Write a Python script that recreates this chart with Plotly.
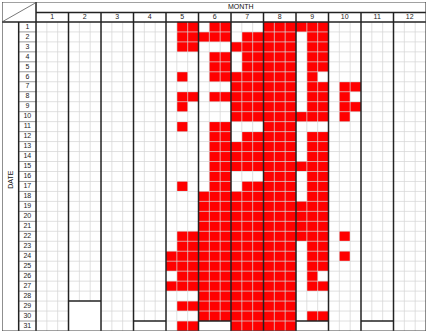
import plotly.graph_objects as go
import numpy as np

# ---------------- data ----------------
MONTHS = list(range(1, 13))
DAYS = list(range(1, 32))
DAYS_IN_MONTH = [31, 28, 31, 30, 31, 30, 31, 31, 30, 31, 30, 31]
MONTH_LABELS = [str(m) for m in MONTHS]
DATE_LABELS = [str(d) for d in DAYS]
SUBCOLS = 3  # three sub-columns per month

# each entry: one day, three sub-columns ("1" = red)
JAN = ["000"] * 31
FEB = ["000"] * 31
MAR = ["000"] * 31
APR = ["000"] * 31
MAY = ["011", "011", "011", "000", "000", "010", "000", "011", "010", "000",
       "010", "000", "000", "000", "000", "000", "010", "000", "000", "000",
       "000", "011", "011", "111", "111", "011", "111", "000", "011", "000",
       "011"]
JUN = ["011", "111", "000", "011", "011", "011", "000", "011", "000", "000",
       "011", "011", "011", "011", "011", "011", "011", "111", "111", "111",
       "111", "111", "111", "111", "111", "111", "111", "111", "111", "111",
       "000"]
JUL = ["000", "011", "111", "011", "011", "111", "111", "111", "111", "111",
       "000", "011", "111", "111", "111", "000", "011", "111", "111", "111",
       "111", "111", "111", "111", "111", "111", "111", "111", "111", "111",
       "111"]
AUG = ["111"] * 31
SEP = ["111", "011", "011", "011", "011", "010", "011", "011", "011", "111",
       "000", "011", "011", "011", "111", "011", "011", "011", "111", "111",
       "111", "111", "011", "011", "011", "010", "011", "000", "000", "011",
       "000"]
OCT = ["000", "000", "000", "000", "000", "000", "011", "010", "011", "010",
       "000", "000", "000", "000", "000", "000", "000", "000", "000", "000",
       "000", "010", "000", "010", "000", "000", "000", "000", "000", "000",
       "000"]
NOV = ["000"] * 31
DEC = ["000"] * 31
SERIES = [JAN, FEB, MAR, APR, MAY, JUN, JUL, AUG, SEP, OCT, NOV, DEC]

# ---------------- build ----------------
ncol = len(MONTHS) * SUBCOLS
nrow = len(DAYS)
z = np.zeros((nrow, ncol))
for mi, ser in enumerate(SERIES):
    for di, s in enumerate(ser):
        if di < DAYS_IN_MONTH[mi]:
            for k, ch in enumerate(s):
                z[di, mi * SUBCOLS + k] = 1 if ch == "1" else 0

XL = -3.14    # left edge (label columns)
XD = -1.6     # DATE / day-number boundary
YT = -2.0     # top edge
YM = -0.95    # MONTH / month-number boundary

fig = go.Figure()
fig.add_trace(go.Heatmap(
    z=z, x=np.arange(ncol) + 0.5, y=np.arange(nrow) + 0.5,
    colorscale=[[0, "#ffffff"], [1, "#ff0000"]], zmin=0, zmax=1,
    showscale=False, hoverinfo="skip"))


def segs(pairs):
    xs, ys = [], []
    for (x0, y0, x1, y1) in pairs:
        xs += [x0, x1, None]
        ys += [y0, y1, None]
    return xs, ys


def add_lines(pairs, color, width):
    xs, ys = segs(pairs)
    fig.add_trace(go.Scatter(x=xs, y=ys, mode="lines",
                             line=dict(color=color, width=width),
                             hoverinfo="skip", showlegend=False))


# light grid inside each month
grid = []
for mi in range(len(MONTHS)):
    x0 = mi * SUBCOLS
    d = DAYS_IN_MONTH[mi]
    for k in range(1, SUBCOLS):
        grid.append((x0 + k, 0, x0 + k, d))
    for r in range(1, d):
        grid.append((x0, r, x0 + SUBCOLS, r))
add_lines(grid, "rgba(214,214,214,0.75)", 1)

# day-number column separators
add_lines([(XD, r, 0, r) for r in range(1, nrow)], "#9a9a9a", 1)

# dark structure lines
dark = []
for mi in range(1, len(MONTHS)):
    dark.append((mi * SUBCOLS, YM, mi * SUBCOLS, nrow))
for mi in range(len(MONTHS)):
    d = DAYS_IN_MONTH[mi]
    if d < nrow:
        dark.append((mi * SUBCOLS, d, mi * SUBCOLS + SUBCOLS, d))
dark.append((0, YT, 0, nrow))
dark.append((XD, 0, XD, nrow))
dark.append((XL, 0, ncol, 0))
dark.append((0, YM, ncol, YM))
add_lines(dark, "#222222", 1.5)

# outer border and diagonal
add_lines([(XL, YT, ncol, YT), (ncol, YT, ncol, nrow), (ncol, nrow, XL, nrow),
           (XL, nrow, XL, YT)], "#444444", 1.2)
add_lines([(XL, 0, -0.1, YT + 0.12)], "#555555", 0.8)

FONT = "Liberation Sans, Arial, sans-serif"
# month numbers
fig.add_trace(go.Scatter(
    x=[mi * SUBCOLS + SUBCOLS / 2 for mi in range(len(MONTHS))],
    y=[(YM + 0) / 2] * len(MONTHS), mode="text", text=MONTH_LABELS,
    textfont=dict(family=FONT, size=7, color="#222222"),
    hoverinfo="skip", showlegend=False))
# day numbers
fig.add_trace(go.Scatter(
    x=[(XD + 0) / 2] * nrow, y=[d - 0.5 for d in DAYS], mode="text",
    text=DATE_LABELS, textfont=dict(family=FONT, size=7, color="#222222"),
    hoverinfo="skip", showlegend=False))
# MONTH title
fig.add_trace(go.Scatter(
    x=[18.9], y=[(YT + YM) / 2], mode="text", text=["MONTH"],
    textfont=dict(family=FONT, size=7, color="#111111"),
    hoverinfo="skip", showlegend=False))

fig.add_annotation(x=(XL + XD) / 2, y=15.8, xref="x", yref="y", text="DATE",
                   textangle=-90, showarrow=False,
                   font=dict(family=FONT, size=7, color="#111111"))

fig.update_layout(
    width=429, height=334,
    margin=dict(l=2, r=3, t=2, b=3),
    paper_bgcolor="white", plot_bgcolor="white",
    xaxis=dict(range=[XL, ncol], visible=False, fixedrange=True),
    yaxis=dict(range=[nrow, YT], visible=False, fixedrange=True),
    showlegend=False,
)

fig.write_html("out.html", config={"displayModeBar": False},
               post_script="document.body.style.margin='0';"
                           "document.body.style.overflow='hidden';")
